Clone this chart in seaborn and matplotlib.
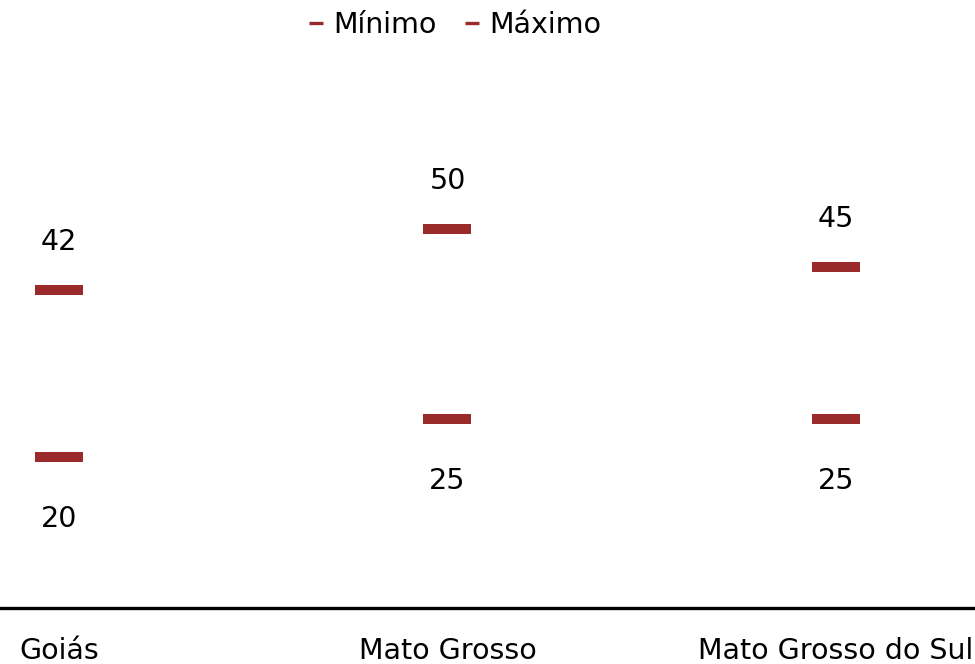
import numpy as np
import pandas as pd
import matplotlib
matplotlib.use("Agg")
import matplotlib.pyplot as plt
from matplotlib.lines import Line2D
from matplotlib.path import Path
from matplotlib.markers import MarkerStyle
import matplotlib.transforms as mtransforms
import seaborn as sns

estados = ["Goiás", "Mato Grosso", "Mato Grosso do Sul"]
minimo = [20, 25, 25]
maximo = [42, 50, 45]
series = ["Mínimo", "Máximo"]
cor = "#9B2A2A"

df = pd.DataFrame({
    "estado": estados * 2,
    "tipo": [series[0]] * len(estados) + [series[1]] * len(estados),
    "valor": minimo + maximo,
})

sns.set_theme(style="white")
plt.rcParams["font.family"] = ["DejaVu Sans"]
plt.rcParams["text.color"] = "black"
FS = 20.5

fig = plt.figure(figsize=(9.75, 6.64), dpi=100)
ax = fig.add_axes([0.0, (664 - 608) / 664, 1.0, (608 - 78) / 664])

h = 5.0 / 48
rect = Path([(-0.5, -h), (0.5, -h), (0.5, h), (-0.5, h), (-0.5, -h)],
            [Path.MOVETO, Path.LINETO, Path.LINETO, Path.LINETO, Path.CLOSEPOLY])
sns.scatterplot(data=df, x="estado", y="valor", hue="tipo",
                palette={series[0]: cor, series[1]: cor},
                marker=MarkerStyle(rect), s=(48 * 72 / 100) ** 2,
                linewidth=0, edgecolor="none", legend=False, ax=ax, zorder=3)

ax.set_xlim(-0.152, 2.358)
ax.set_ylim(0, 70)

# value labels
for i, (mn, mx) in enumerate(zip(minimo, maximo)):
    t_up = mtransforms.offset_copy(ax.transData, fig=fig, x=0, y=40, units="dots")
    t_dn = mtransforms.offset_copy(ax.transData, fig=fig, x=0, y=-70, units="dots")
    ax.text(i, mx, f"{mx}", transform=t_up, ha="center", va="baseline",
            fontsize=FS, color="black")
    ax.text(i, mn, f"{mn}", transform=t_dn, ha="center", va="baseline",
            fontsize=FS, color="black")

ax.set_xlabel("")
ax.set_ylabel("")
ax.set_yticks([])
ax.tick_params(axis="x", length=0, pad=29 * 72 / 100, labelsize=FS, colors="black")
for s in ["top", "left", "right"]:
    ax.spines[s].set_visible(False)
ax.spines["bottom"].set_color("black")
ax.spines["bottom"].set_linewidth(2.4)
ax.grid(False)
ax.set_facecolor("white")

handles = [Line2D([0], [0], color=cor, lw=2.4, solid_capstyle="butt") for _ in series]
leg = fig.legend(handles, series, loc="center", bbox_to_anchor=(455 / 975, 1 - 25 / 664),
                 ncol=2, frameon=False, fontsize=FS, handlelength=0.5,
                 handletextpad=0.35, columnspacing=1.0)
for t in leg.get_texts():
    t.set_color("black")

fig.savefig("out.png", dpi=100, facecolor="white")
